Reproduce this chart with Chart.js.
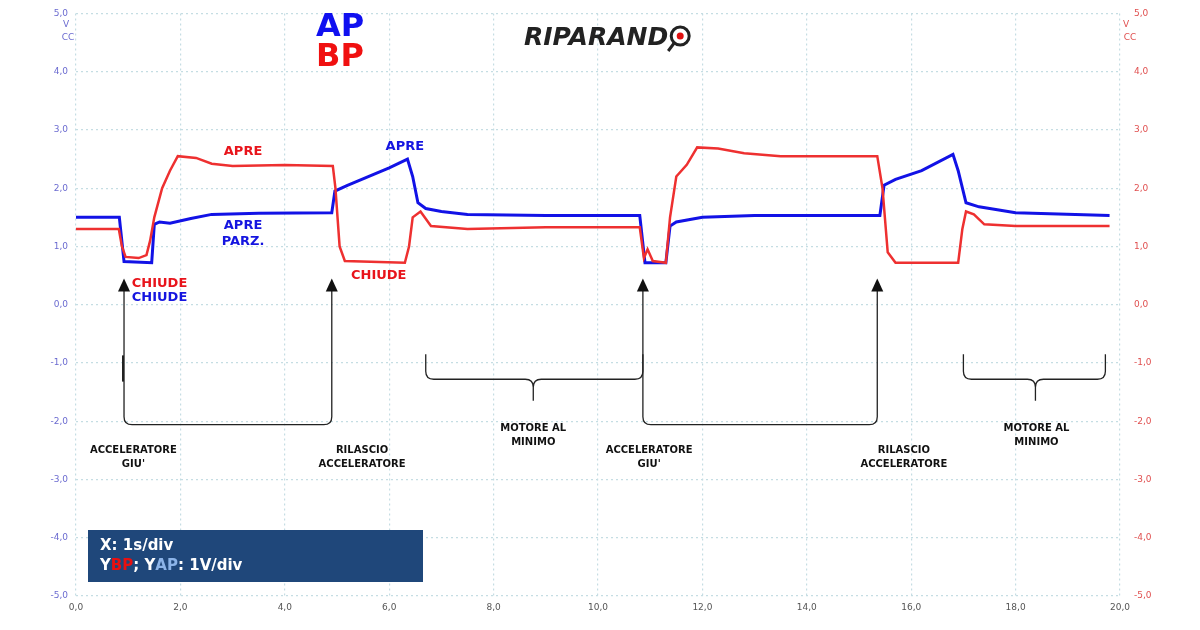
<!DOCTYPE html>
<html><head><meta charset="utf-8">
<script src="https://cdn.jsdelivr.net/npm/chart.js@4"></script>
<style>html,body{margin:0;padding:0;background:#fff}canvas{display:block}</style>
</head><body><canvas id="c" width="1200" height="630"></canvas>
<script>
const tBP=[0,0.82,0.88,0.95,1.2,1.35,1.42,1.5,1.65,1.8,1.95,2.3,2.6,3,4,4.92,4.97,5.05,5.15,6.3,6.38,6.45,6.6,6.8,7.5,9,10.8,10.88,10.95,11.05,11.3,11.38,11.5,11.7,11.9,12.3,12.8,13.5,15.35,15.45,15.55,15.7,16.9,16.98,17.05,17.2,17.4,18,19.8];
const vBP=[1.3,1.3,1.0,0.82,0.8,0.85,1.1,1.5,2.0,2.3,2.55,2.52,2.42,2.38,2.4,2.38,2.0,1.0,0.75,0.72,1.0,1.5,1.6,1.35,1.3,1.33,1.33,0.8,0.95,0.75,0.72,1.5,2.2,2.4,2.7,2.68,2.6,2.55,2.55,2.0,0.9,0.72,0.72,1.3,1.6,1.55,1.38,1.35,1.35];
const tAP=[0,0.83,0.92,1.45,1.5,1.6,1.8,2.2,2.6,3.5,4.9,4.96,5.2,5.6,6.0,6.35,6.45,6.55,6.7,7.0,7.5,9,10.8,10.9,11.3,11.38,11.5,12,13,15.4,15.48,15.7,16.2,16.8,16.9,17.05,17.3,18,19.8];
const vAP=[1.5,1.5,0.74,0.72,1.38,1.42,1.4,1.48,1.55,1.57,1.58,1.95,2.05,2.2,2.35,2.5,2.2,1.75,1.65,1.6,1.55,1.53,1.53,0.72,0.72,1.35,1.42,1.5,1.53,1.53,2.05,2.15,2.3,2.58,2.3,1.75,1.68,1.58,1.53];
const yTicks=[-5,-4,-3,-2,-1,0,1,2,3,4,5];
const xTicks=[0,2,4,6,8,10,12,14,16,18,20];
const fmt=v=>v.toFixed(1).replace('.',',');
const labels=[["APRE",3.2,2.62,"#e8141b"],["APRE",6.3,2.72,"#1515e0"],["APRE",3.2,1.36,"#1515e0"],["PARZ.",3.2,1.09,"#1515e0"],["CHIUDE",1.6,0.37,"#e8141b"],["CHIUDE",1.6,0.13,"#1515e0"],["CHIUDE",5.8,0.5,"#e8141b"]];
const arrowsT=[0.92,4.9,10.86,15.35];
const captions=[["ACCELERATORE","GIU'",1.1,-2.5],["RILASCIO","ACCELERATORE",5.48,-2.5],["MOTORE AL","MINIMO",8.76,-2.12],["ACCELERATORE","GIU'",10.98,-2.5],["RILASCIO","ACCELERATORE",15.86,-2.5],["MOTORE AL","MINIMO",18.4,-2.12]];
const braces=[[6.7,10.86,8.76],[17.0,19.72,18.38]];
const pairs=(t,v)=>t.map((x,i)=>({x,y:v[i]}));
const deco={id:'deco',afterDraw(ch){
 const c=ch.ctx,X=ch.scales.x,Y=ch.scales.y;const px=t=>X.getPixelForValue(t),py=v=>Y.getPixelForValue(v);
 c.save();c.textAlign='center';c.textBaseline='middle';
 c.font='bold 13px "DejaVu Sans"';
 labels.forEach(l=>{c.fillStyle=l[3];c.fillText(l[0],px(l[1]),py(l[2]));});
 c.strokeStyle='#222';c.fillStyle='#111';c.lineWidth=1.3;
 arrowsT.forEach(t=>{const x=px(t),yt=py(0.45);c.beginPath();c.moveTo(x,yt+12);c.lineTo(x,py(-1.0));c.stroke();c.beginPath();c.moveTo(x,yt);c.lineTo(x-6,yt+13);c.lineTo(x+6,yt+13);c.closePath();c.fill();});
 [[0,1],[2,3]].forEach(p=>{const a=px(arrowsT[p[0]]),b=px(arrowsT[p[1]]),y0=py(-1.0),y1=py(-2.06),r=8;c.beginPath();c.moveTo(a,y0);c.lineTo(a,y1-r);c.quadraticCurveTo(a,y1,a+r,y1);c.lineTo(b-r,y1);c.quadraticCurveTo(b,y1,b,y1-r);c.lineTo(b,y0);c.stroke();});
 c.lineWidth=2;c.beginPath();c.moveTo(px(0.9),py(-0.87));c.lineTo(px(0.9),py(-1.32));c.stroke();c.lineWidth=1.3;
 braces.forEach(b=>{const a=px(b[0]),e=px(b[1]),m=px(b[2]),y0=py(-0.85),y1=py(-1.28),y2=py(-1.65),r=8;c.beginPath();c.moveTo(a,y0);c.lineTo(a,y1-r);c.quadraticCurveTo(a,y1,a+r,y1);c.lineTo(m-r,y1);c.quadraticCurveTo(m,y1,m,y1+r);c.lineTo(m,y2);c.moveTo(m,y1+r);c.quadraticCurveTo(m,y1,m+r,y1);c.lineTo(e-r,y1);c.quadraticCurveTo(e,y1,e,y1-r);c.lineTo(e,y0);c.stroke();});
 c.fillStyle='#111';c.font='bold 10px "DejaVu Sans"';
 captions.forEach(k=>{c.fillText(k[0],px(k[2]),py(k[3]));c.fillText(k[1],px(k[2]),py(k[3])+14);});
 c.font='bold 32px "DejaVu Sans"';c.fillStyle='#1010f0';c.fillText('AP',340,28);c.fillStyle='#f01010';c.fillText('BP',340,58);
 c.font='italic bold 25px "DejaVu Sans"';c.fillStyle='#222';c.textAlign='left';c.fillText('RIPARAND',524,38);
 const lx=524+c.measureText('RIPARAND').width+12;
 c.strokeStyle='#222';c.lineWidth=3;c.beginPath();c.arc(lx,36,9,0,Math.PI*2);c.stroke();c.beginPath();c.moveTo(lx-6,43);c.lineTo(lx-12,51);c.stroke();
 c.fillStyle='#e01010';c.beginPath();c.arc(lx,36,3.5,0,Math.PI*2);c.fill();
 c.fillStyle='#1f477a';c.fillRect(88,530,335,52);
 c.font='bold 15px "DejaVu Sans"';c.fillStyle='#fff';c.fillText('X: 1s/div',100,546);
 let x=100;const seg=[['Y','#fff'],['BP','#e81010'],['; Y','#fff'],['AP','#8cb4e8'],[': 1V/div','#fff']];
 seg.forEach(s=>{c.fillStyle=s[1];c.fillText(s[0],x,566);x+=c.measureText(s[0]).width;});
 c.font='9px "DejaVu Sans"';c.textAlign='center';c.fillStyle='#6b6bd0';c.fillText('V',66,25);c.fillText('CC',68,38);
 c.fillStyle='#e05050';c.fillText('V',1126,25);c.fillText('CC',1130,38);
 c.restore();}};
const tk=(col)=>({color:col,font:{size:9,family:'DejaVu Sans'},autoSkip:false,maxRotation:0,minRotation:0,callback:fmt});
new Chart(document.getElementById('c'),{type:'line',
 data:{datasets:[
  {label:'BP',data:pairs(tBP,vBP),borderColor:'#ee3030',borderWidth:2.5,pointRadius:0,tension:0,yAxisID:'y'},
  {label:'AP',data:pairs(tAP,vAP),borderColor:'#1212e6',borderWidth:3,pointRadius:0,tension:0,yAxisID:'y'}]},
 options:{responsive:false,animation:false,devicePixelRatio:1,
  layout:{padding:{top:11,left:0,right:0,bottom:0}},
  plugins:{legend:{display:false},tooltip:{enabled:false}},
  scales:{
   x:{type:'linear',min:0,max:20,afterBuildTicks:a=>{a.ticks=xTicks.map(v=>({value:v}));},afterFit:a=>{a.height=34;},
      grid:{color:'#c5dde3',drawTicks:false,lineWidth:1.2},border:{display:false,dash:[2,3]},
      ticks:Object.assign(tk('#555'),{padding:6})},
   y:{min:-5,max:5,afterBuildTicks:a=>{a.ticks=yTicks.map(v=>({value:v}));},afterFit:a=>{a.width=76;},
      grid:{color:'#c5dde3',drawTicks:false,lineWidth:1.2},border:{display:false,dash:[2,3]},
      ticks:Object.assign(tk('#6b6bd0'),{padding:8})},
   y2:{position:'right',min:-5,max:5,afterBuildTicks:a=>{a.ticks=yTicks.map(v=>({value:v}));},afterFit:a=>{a.width=80;},
      grid:{display:false},border:{display:false},
      ticks:Object.assign(tk('#e05050'),{padding:6})}}},
 plugins:[deco]});
</script></body></html>
